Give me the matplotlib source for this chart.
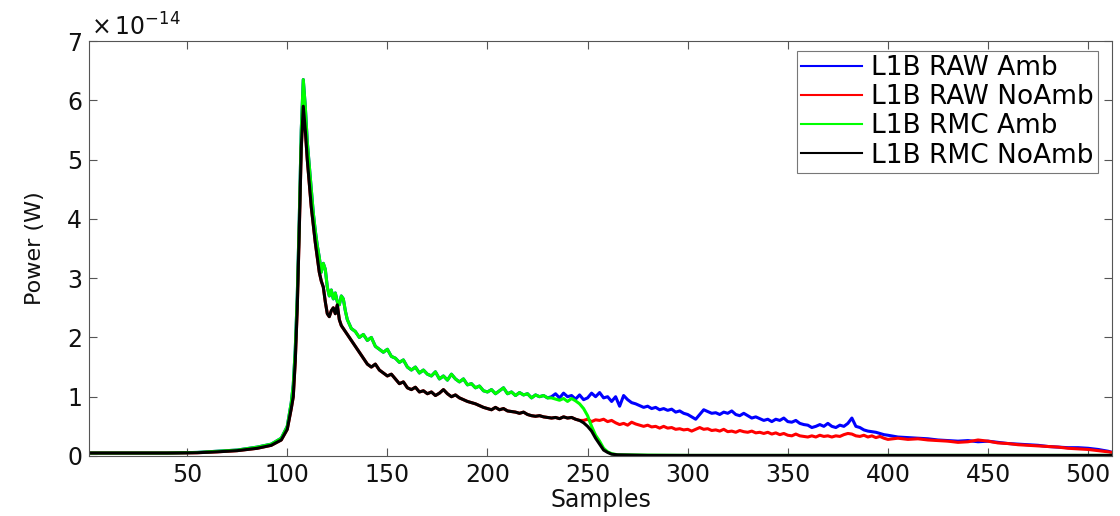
import matplotlib.pyplot as plt

plt.rcParams['font.family'] = ['DejaVu Sans']
plt.rcParams['mathtext.default'] = 'regular'

# shared part of the two "Amb" curves (blue / green), values in 1e-14 W
amb_x = [1, 20, 40, 55, 65, 75, 85, 92, 97, 100, 102, 103, 104, 105, 106, 107, 108,
         109, 110, 111, 112, 113, 114, 115, 116, 117, 118, 119, 120, 121, 122, 123,
         124, 125, 126, 127, 128, 129, 130, 132, 134, 136, 138, 140, 142, 144, 146,
         148, 150, 152, 154, 156, 158, 160, 162, 164, 166, 168, 170, 172, 174, 176,
         178, 180, 182, 184, 186, 188, 190, 192, 194, 196, 198, 200, 202, 204, 206,
         208, 210, 212, 214, 216, 218, 220, 222, 224, 226, 228, 230]
amb_y = [0.05, 0.05, 0.05, 0.06, 0.08, 0.1, 0.15, 0.2, 0.3, 0.5, 0.9, 1.2, 1.8, 2.7,
         4.0, 5.5, 6.35, 5.9, 5.3, 4.9, 4.5, 4.1, 3.8, 3.55, 3.35, 3.1, 3.25, 3.15,
         2.85, 2.7, 2.8, 2.65, 2.75, 2.6, 2.55, 2.7, 2.65, 2.45, 2.3, 2.15, 2.1, 2.0,
         2.05, 1.95, 2.0, 1.85, 1.8, 1.75, 1.8, 1.68, 1.65, 1.58, 1.62, 1.5, 1.45,
         1.5, 1.4, 1.45, 1.38, 1.35, 1.42, 1.3, 1.35, 1.28, 1.38, 1.3, 1.25, 1.3, 1.2,
         1.22, 1.15, 1.18, 1.1, 1.08, 1.12, 1.05, 1.1, 1.15, 1.05, 1.08, 1.02, 1.07,
         1.03, 1.05, 0.98, 1.03, 1.0, 1.02, 0.98]

raw_amb_tx = [232, 234, 236, 238, 240, 242, 244, 246, 248, 250, 252, 254, 256, 258,
              260, 262, 264, 266, 268, 270, 272, 274, 276, 278, 280, 282, 284, 286,
              288, 290, 292, 294, 296, 298, 300, 302, 304, 306, 308, 310, 312, 314,
              316, 318, 320, 322, 324, 326, 328, 330, 332, 334, 336, 338, 340, 342,
              344, 346, 348, 350, 352, 354, 356, 358, 360, 362, 364, 366, 368, 370,
              372, 374, 376, 378, 380, 382, 384, 386, 388, 390, 392, 394, 396, 398,
              400, 405, 410, 415, 420, 425, 430, 435, 440, 445, 450, 455, 460, 465,
              470, 475, 480, 485, 490, 495, 500, 505, 510, 512]
raw_amb_ty = [1.0, 1.05, 0.98, 1.06, 1.0, 1.02, 0.96, 1.03, 0.95, 0.98, 1.06, 1.0,
              1.07, 0.98, 1.0, 0.92, 1.0, 0.84, 1.02, 0.95, 0.9, 0.88, 0.85, 0.82,
              0.84, 0.8, 0.82, 0.78, 0.8, 0.77, 0.79, 0.74, 0.76, 0.72, 0.7, 0.66,
              0.62, 0.7, 0.78, 0.75, 0.72, 0.73, 0.7, 0.74, 0.72, 0.76, 0.7, 0.68,
              0.72, 0.68, 0.64, 0.66, 0.63, 0.6, 0.62, 0.58, 0.62, 0.6, 0.64, 0.58,
              0.57, 0.6, 0.55, 0.53, 0.52, 0.48, 0.5, 0.53, 0.5, 0.55, 0.5, 0.48, 0.52,
              0.5, 0.55, 0.64, 0.5, 0.48, 0.44, 0.42, 0.41, 0.4, 0.38, 0.36, 0.35,
              0.32, 0.31, 0.3, 0.29, 0.27, 0.26, 0.25, 0.26, 0.24, 0.25, 0.23, 0.21,
              0.2, 0.19, 0.18, 0.16, 0.15, 0.14, 0.14, 0.13, 0.11, 0.08, 0.06]

rmc_amb_tx = [232, 234, 236, 238, 240, 242, 244, 246, 248, 250, 252, 254, 256, 258,
              260, 262, 265, 280, 300, 512]
rmc_amb_ty = [0.98, 0.96, 0.94, 0.97, 0.92, 0.97, 0.93, 0.88, 0.8, 0.68, 0.5, 0.35,
              0.25, 0.13, 0.07, 0.04, 0.02, 0.015, 0.01, 0.01]

# shared part of the two "NoAmb" curves (red / black)
noamb_x = [1, 20, 40, 55, 65, 75, 85, 92, 97, 100, 102, 103, 104, 105, 106, 107,
           108, 109, 110, 111, 112, 113, 114, 115, 116, 117, 118, 119, 120, 121,
           122, 123, 124, 125, 126, 127, 128, 130, 132, 134, 136, 138, 140, 142,
           144, 146, 148, 150, 152, 154, 156, 158, 160, 162, 164, 166, 168, 170,
           172, 174, 176, 178, 180, 182, 184, 186, 188, 190, 192, 194, 196, 198,
           200, 202, 204, 206, 208, 210, 212, 214, 216, 218, 220, 222, 224, 226,
           228, 230, 232, 234, 236, 238, 240, 242, 244, 246]
noamb_y = [0.05, 0.05, 0.05, 0.055, 0.07, 0.09, 0.13, 0.18, 0.27, 0.45, 0.8, 1.0,
           1.6, 2.5, 3.8, 5.2, 5.9, 5.5, 5.0, 4.6, 4.2, 3.9, 3.6, 3.35, 3.1, 2.95,
           2.85, 2.6, 2.4, 2.35, 2.45, 2.5, 2.4, 2.55, 2.3, 2.2, 2.15, 2.05, 1.95,
           1.85, 1.75, 1.65, 1.55, 1.5, 1.55, 1.45, 1.4, 1.35, 1.38, 1.3, 1.22, 1.25,
           1.15, 1.12, 1.16, 1.08, 1.1, 1.05, 1.08, 1.02, 1.06, 1.12, 1.05, 1.0, 1.03,
           0.98, 0.95, 0.92, 0.9, 0.88, 0.85, 0.82, 0.8, 0.78, 0.82, 0.78, 0.8, 0.76,
           0.75, 0.74, 0.72, 0.74, 0.7, 0.68, 0.67, 0.68, 0.66, 0.65, 0.64, 0.65,
           0.63, 0.66, 0.64, 0.65, 0.62, 0.6]

raw_noamb_tx = [248, 250, 252, 254, 256, 258, 260, 262, 264, 266, 268, 270, 272,
                274, 276, 278, 280, 282, 284, 286, 288, 290, 292, 294, 296, 298,
                300, 302, 304, 306, 308, 310, 312, 314, 316, 318, 320, 322, 324,
                326, 328, 330, 332, 334, 336, 338, 340, 342, 344, 346, 348, 350,
                352, 354, 356, 358, 360, 362, 364, 366, 368, 370, 372, 374, 376,
                378, 380, 382, 384, 386, 388, 390, 392, 394, 396, 398, 400, 405,
                410, 415, 420, 425, 430, 435, 440, 445, 450, 455, 460, 465, 470,
                475, 480, 485, 490, 495, 500, 505, 510, 512]
raw_noamb_ty = [0.6, 0.62, 0.58, 0.61, 0.6, 0.62, 0.58, 0.6, 0.56, 0.53, 0.55,
                0.52, 0.57, 0.54, 0.52, 0.5, 0.52, 0.49, 0.5, 0.47, 0.5, 0.47, 0.48,
                0.45, 0.46, 0.44, 0.45, 0.42, 0.45, 0.48, 0.45, 0.46, 0.43, 0.44,
                0.42, 0.45, 0.41, 0.42, 0.4, 0.43, 0.41, 0.4, 0.42, 0.39, 0.4, 0.38,
                0.4, 0.37, 0.39, 0.36, 0.38, 0.35, 0.34, 0.37, 0.34, 0.33, 0.32,
                0.34, 0.32, 0.35, 0.33, 0.34, 0.32, 0.34, 0.33, 0.36, 0.38, 0.37,
                0.34, 0.33, 0.35, 0.32, 0.34, 0.31, 0.33, 0.3, 0.28, 0.3, 0.28, 0.29,
                0.27, 0.26, 0.25, 0.23, 0.24, 0.27, 0.25, 0.22, 0.21, 0.19, 0.18,
                0.17, 0.16, 0.15, 0.13, 0.12, 0.11, 0.09, 0.07, 0.06]

rmc_noamb_tx = [248, 250, 252, 254, 256, 258, 260, 262, 265, 280, 512]
rmc_noamb_ty = [0.56, 0.5, 0.42, 0.3, 0.2, 0.1, 0.06, 0.03, 0.02, 0.01, 0.01]

labels = ['L1B RAW Amb', 'L1B RAW NoAmb', 'L1B RMC Amb', 'L1B RMC NoAmb']
colors = ['#0000ff', '#ff0000', '#00ff00', '#000000']

fig = plt.figure(figsize=(11.2, 5.16), dpi=100)
ax = fig.add_axes([0.0795, 0.1163, 0.9135, 0.8042])

ax.plot(amb_x + raw_amb_tx, amb_y + raw_amb_ty, color=colors[0], lw=2.2, label=labels[0])
ax.plot(noamb_x + raw_noamb_tx, noamb_y + raw_noamb_ty, color=colors[1], lw=2.2, label=labels[1])
ax.plot(amb_x + rmc_amb_tx, amb_y + rmc_amb_ty, color=colors[2], lw=2.2, label=labels[2])
ax.plot(noamb_x + rmc_noamb_tx, noamb_y + rmc_noamb_ty, color=colors[3], lw=2.2, label=labels[3])

ax.set_xlim(1, 512)
ax.set_ylim(0, 7)
ax.set_xticks(range(50, 501, 50))
ax.set_yticks(range(0, 8))
ax.tick_params(direction='in', top=True, right=True, labelsize=17, length=6, width=0.8,
               colors='#555555', labelcolor='#111111', pad=5)
for s in ax.spines.values():
    s.set_color('#555555')
ax.set_xlabel('Samples', fontsize=17, labelpad=1, color='#111111')
ax.set_ylabel('Power (W)', fontsize=16, labelpad=16, color='#111111')
ax.text(0.002, 1.0, r'$\times\,10^{-14}$', transform=ax.transAxes, fontsize=17,
        ha='left', va='bottom', color='#111111')

leg = ax.legend(loc='upper right', fontsize=19, frameon=True, fancybox=False,
                handlelength=2.3, handletextpad=0.35, borderpad=0.15, labelspacing=0.12,
                borderaxespad=0.15, bbox_to_anchor=(0.99, 0.985))
leg.get_frame().set_edgecolor('#555555')
leg.get_frame().set_linewidth(0.8)
for line in leg.get_lines():
    line.set_linewidth(1.5)

fig.savefig('out.png', dpi=100)
